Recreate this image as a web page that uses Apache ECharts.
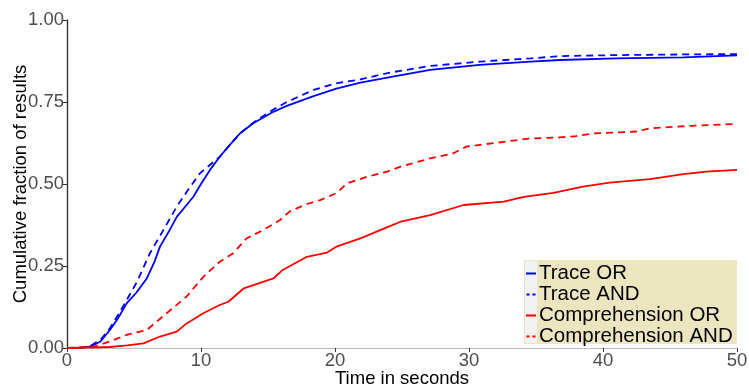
<!DOCTYPE html>
<html>
<head>
<meta charset="utf-8">
<script src="https://cdn.jsdelivr.net/npm/echarts@6/dist/echarts.min.js"></script>
<style>
  html, body { margin: 0; padding: 0; background: #fff; }
  #chart { width: 749px; height: 387px; }
</style>
</head>
<body>
<div id="chart"></div>
<script>
// series data: [seconds, cumulative fraction]
var traceOr = [
  [0, 0], [1.0, 0.001], [1.7, 0.004], [2.5, 0.02], [3.2, 0.055], [3.8, 0.09], [4.45, 0.136],
  [5.2, 0.17], [5.95, 0.212], [6.5, 0.26], [6.94, 0.309], [7.6, 0.355], [8.19, 0.40],
  [8.8, 0.43], [9.43, 0.461], [10.0, 0.50], [10.67, 0.543], [11.4, 0.583], [12.04, 0.614],
  [12.9, 0.654], [13.9, 0.685], [15.4, 0.72], [16.4, 0.738], [18.4, 0.768], [20.1, 0.791],
  [21.9, 0.809], [24.0, 0.825], [27.1, 0.848], [30.8, 0.863], [34.6, 0.873], [36.8, 0.878],
  [41.0, 0.883], [46.0, 0.886], [50, 0.892]
];
var traceAnd = [
  [0, 0], [1.0, 0.001], [1.7, 0.005], [2.5, 0.025], [3.2, 0.06], [3.8, 0.1], [4.45, 0.146],
  [5.2, 0.2], [6.19, 0.289], [7.2, 0.36], [8.19, 0.431], [9.0, 0.48], [9.93, 0.533],
  [11.4, 0.583], [12.04, 0.614], [12.9, 0.654], [13.9, 0.687], [15.4, 0.727], [16.4, 0.75],
  [18.4, 0.787], [20.1, 0.807], [21.9, 0.819], [24.0, 0.839], [27.1, 0.86], [30.8, 0.873],
  [34.6, 0.883], [36.8, 0.89], [41.0, 0.893], [46.0, 0.895], [50, 0.896]
];
var compOr = [
  [0, 0], [3.2, 0.003], [4.5, 0.008], [5.7, 0.014], [6.94, 0.035], [8.19, 0.05],
  [8.93, 0.075], [10.17, 0.106], [11.4, 0.131], [12.04, 0.141], [13.2, 0.182],
  [15.4, 0.212], [16.1, 0.238], [17.9, 0.278], [19.4, 0.291], [20.1, 0.309], [21.9, 0.334],
  [24.0, 0.37], [24.9, 0.385], [27.1, 0.405], [29.6, 0.436], [32.6, 0.446], [34.1, 0.461],
  [36.3, 0.473], [38.5, 0.492], [40.5, 0.504], [43.5, 0.515], [46.0, 0.53], [47.7, 0.538],
  [50, 0.543]
];
var compAnd = [
  [0, 0], [2.0, 0.004], [3.2, 0.02], [4.45, 0.04], [5.95, 0.055], [7.44, 0.106],
  [8.93, 0.157], [10.17, 0.217], [11.4, 0.263], [12.4, 0.289], [13.4, 0.334], [14.65, 0.36],
  [15.9, 0.39], [16.6, 0.416], [17.9, 0.439], [18.9, 0.451], [20.1, 0.472], [20.9, 0.502],
  [22.4, 0.522], [23.9, 0.538], [24.9, 0.553], [27.1, 0.578], [28.8, 0.593], [29.8, 0.614],
  [32.1, 0.626], [34.6, 0.639], [36.8, 0.642], [38.0, 0.646], [39.3, 0.654], [42.5, 0.66],
  [43.5, 0.67], [46.5, 0.677], [50, 0.683]
];
var seriesNames = ['Trace OR', 'Trace AND', 'Comprehension OR', 'Comprehension AND'];

var chartDom = document.getElementById('chart');
var myChart = echarts.init(chartDom);

var font = 'Liberation Sans, Arial, sans-serif';
var solidIcon = 'path://M0,0 L10,0 L10,2 L0,2 Z';
var dashIcon = 'path://M0,0 L3,0 L3,2 L0,2 Z M6,0 L9,0 L9,2 L6,2 Z';

function line(name, data, color, dashed) {
  return {
    name: name,
    type: 'line',
    data: data,
    symbol: 'none',
    smooth: false,
    lineStyle: { color: color, width: 1.8, type: dashed ? [7, 5] : 'solid' },
    itemStyle: { color: color }
  };
}

var option = {
  animation: false,
  textStyle: { fontFamily: font },
  grid: { left: 67, right: 12, top: 20, bottom: 39, containLabel: false, outerBoundsMode: 'none' },
  graphic: [
    // legend background + light key column
    { type: 'rect', z: 1, shape: { x: 524, y: 260, width: 213, height: 84 }, style: { fill: '#ece6c0' } },
    { type: 'rect', z: 2, shape: { x: 525, y: 261, width: 12, height: 82 }, style: { fill: '#f1f1f1' } }
  ],
  legend: {
    data: [
      { name: seriesNames[0], icon: solidIcon },
      { name: seriesNames[1], icon: dashIcon },
      { name: seriesNames[2], icon: solidIcon },
      { name: seriesNames[3], icon: dashIcon }
    ],
    orient: 'vertical',
    left: 526,
    top: 263,
    padding: 0,
    itemGap: 0,
    itemWidth: 10,
    itemHeight: 2,
    z: 5,
    textStyle: { color: '#000', fontSize: 20.5, lineHeight: 20, fontFamily: font, padding: [0, 0, 0, -2] }
  },
  xAxis: [{
    type: 'value',
    min: 0, max: 50, interval: 10,
    name: 'Time in seconds',
    nameLocation: 'middle',
    nameGap: 21,
    nameMoveOverlap: false,
    nameTextStyle: { color: '#000', fontSize: 18.5 },
    axisLine: { lineStyle: { color: '#333', width: 1.2 } },
    axisTick: { show: true, length: 4, lineStyle: { color: '#333' } },
    axisLabel: { color: '#4d4d4d', fontSize: 18.5, margin: 3 },
    splitLine: { show: false }
  }, {
    type: 'value', position: 'top', min: 0, max: 50,
    axisLine: { show: true, lineStyle: { color: '#bdbdbd', width: 1.2 } },
    axisTick: { show: false }, axisLabel: { show: false }, splitLine: { show: false }
  }],
  yAxis: [{
    type: 'value',
    min: 0, max: 1, interval: 0.25,
    name: 'Cumulative fraction of results',
    nameLocation: 'middle',
    nameGap: 37,
    nameMoveOverlap: false,
    nameTextStyle: { color: '#000', fontSize: 18.5 },
    axisLine: { show: true, lineStyle: { color: '#333', width: 1.2 } },
    axisTick: { show: true, length: 4, lineStyle: { color: '#333' } },
    axisLabel: {
      color: '#4d4d4d', fontSize: 18.5, margin: 3,
      formatter: function (v) { return v.toFixed(2); }
    },
    splitLine: { show: false }
  }, {
    type: 'value', position: 'right', min: 0, max: 1,
    axisLine: { show: true, lineStyle: { color: '#333', width: 1.2 } },
    axisTick: { show: false }, axisLabel: { show: false }, splitLine: { show: false }
  }],
  series: [
    line(seriesNames[0], traceOr, '#0000ff', false),
    line(seriesNames[1], traceAnd, '#0000ff', true),
    line(seriesNames[2], compOr, '#ff0000', false),
    line(seriesNames[3], compAnd, '#ff0000', true)
  ]
};

myChart.setOption(option);

window.addEventListener('resize', function () {
  myChart.resize();
});
</script>
</body>
</html>
